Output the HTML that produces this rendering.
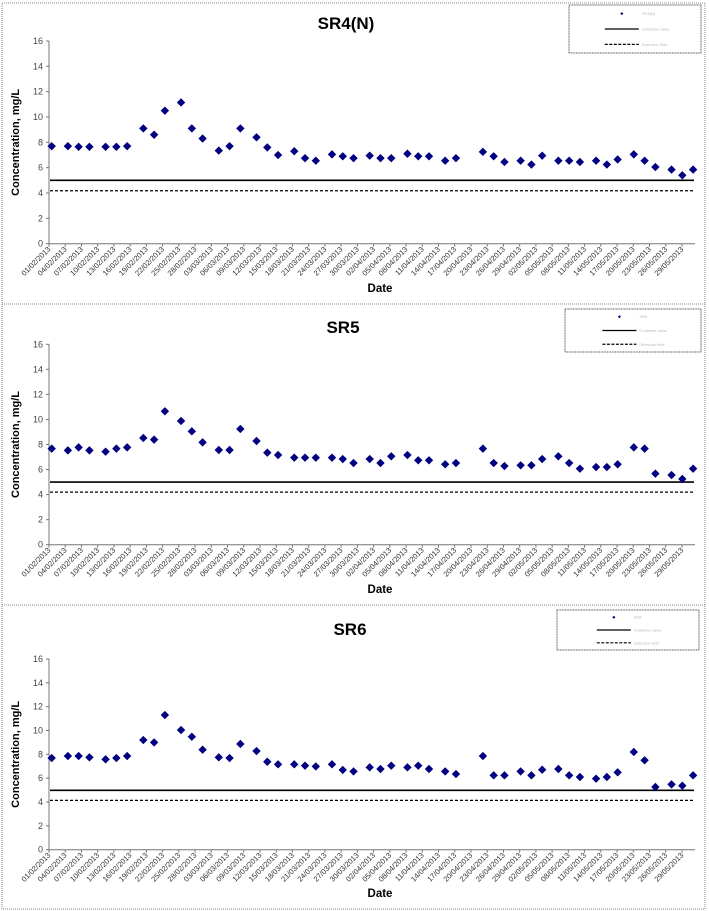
<!DOCTYPE html>
<html><head><meta charset="utf-8"><style>
html,body{margin:0;padding:0;background:#fff}
svg{display:block;font-family:"Liberation Sans",sans-serif}
</style></head><body>
<svg id="root" width="709" height="911" viewBox="0 0 709 911">
<rect x="2" y="3" width="703" height="906" fill="none" stroke="#888" stroke-dasharray="1,1"/>
<line x1="2" y1="304" x2="705" y2="304" stroke="#888" stroke-dasharray="1,1"/>
<line x1="2" y1="605" x2="705" y2="605" stroke="#888" stroke-dasharray="1,1"/>
</svg>
<script>
const days=[0,3,5,7,10,12,14,17,19,21,24,26,28,31,33,35,38,40,42,45,47,49,52,54,56,59,61,63,66,68,70,73,75,80,82,84,87,89,91,94,96,98,101,103,105,108,110,112,115,117,119];
const sr4=[7.7,7.7,7.65,7.65,7.65,7.65,7.7,9.1,8.6,10.5,11.15,9.1,8.3,7.35,7.7,9.1,8.4,7.6,7.0,7.3,6.75,6.55,7.05,6.9,6.75,6.95,6.75,6.75,7.1,6.9,6.9,6.55,6.75,7.25,6.9,6.45,6.55,6.25,6.95,6.55,6.55,6.45,6.55,6.25,6.65,7.05,6.55,6.05,5.85,5.4,5.85];
const sr5=[7.67,7.53,7.77,7.53,7.43,7.67,7.77,8.52,8.39,10.65,9.88,9.05,8.17,7.56,7.56,9.24,8.28,7.35,7.16,6.95,6.95,6.95,6.95,6.84,6.52,6.84,6.52,7.06,7.16,6.74,6.74,6.42,6.52,7.67,6.52,6.28,6.34,6.34,6.84,7.06,6.52,6.07,6.2,6.2,6.42,7.77,7.67,5.67,5.56,5.25,6.07];
const sr6=[7.69,7.86,7.86,7.75,7.58,7.69,7.86,9.2,9.0,11.3,10.04,9.48,8.39,7.75,7.69,8.87,8.28,7.38,7.16,7.16,7.05,6.99,7.16,6.69,6.57,6.91,6.77,7.05,6.91,7.05,6.77,6.57,6.35,7.86,6.24,6.24,6.57,6.24,6.71,6.77,6.24,6.1,5.96,6.1,6.49,8.2,7.5,5.26,5.48,5.37,6.24];
const yTicks=[0,2,4,6,8,10,12,14,16];
const guideline=[5,5,4.98];
const limit=[4.18,4.2,4.14];
const tickLabels=["01/02/2013","04/02/2013","07/02/2013","10/02/2013","13/02/2013","16/02/2013","19/02/2013","22/02/2013","25/02/2013","28/02/2013","03/03/2013","06/03/2013","09/03/2013","12/03/2013","15/03/2013","18/03/2013","21/03/2013","24/03/2013","27/03/2013","30/03/2013","02/04/2013","05/04/2013","08/04/2013","11/04/2013","14/04/2013","17/04/2013","20/04/2013","23/04/2013","26/04/2013","29/04/2013","02/05/2013","05/05/2013","08/05/2013","11/05/2013","14/05/2013","17/05/2013","20/05/2013","23/05/2013","26/05/2013","29/05/2013"];
const titles=["SR4(N)","SR5","SR6"];
const series=[sr4,sr5,sr6];
const NS="http://www.w3.org/2000/svg";
const root=document.getElementById('root');
const layouts=[
 {y0:243.7,y16:41,tx:346,ty:29,dateY:292,leg:[569,5,132,48]},
 {y0:544.7,y16:344.3,tx:343,ty:333,dateY:593,leg:[565,309,136,43]},
 {y0:849.7,y16:659,tx:350,ty:635,dateY:897,leg:[557,610,142,40]}
];
function mk(tag,attrs,parent){const e=document.createElementNS(NS,tag);for(const k in attrs)e.setAttribute(k,attrs[k]);(parent||root).appendChild(e);return e;}
const xPt=d=>49+(d+0.5)*5.39;
const xTick=d=>49+d*5.41;
series.forEach((vals,ci)=>{
 const L=layouts[ci];
 const yS=v=>L.y0-(v/16)*(L.y0-L.y16);
 const g=mk('g',{});
 
 
 const t=mk('text',{x:L.tx,y:L.ty,'text-anchor':'middle','font-size':'17','font-weight':'bold',fill:'#000'},g);
 t.textContent=titles[ci];
 
 
 const ya=mk('line',{x1:49,y1:L.y16,x2:49,y2:L.y0,stroke:'#777'},g);
 
 
 const xa=mk('line',{x1:49,y1:L.y0,x2:695,y2:L.y0,stroke:'#777'},g);
 
 
 yTicks.forEach(v=>{
  const y=yS(v);
  mk('line',{x1:46,y1:y,x2:49,y2:y,stroke:'#777'},g);
  const tl=mk('text',{x:43,y:y+3,'text-anchor':'end','font-size':'9',fill:'#444'},g);
  tl.textContent=v;
  
  
 });
 tickLabels.forEach((lab,i)=>{
  const x=xTick(i*3);
  mk('line',{x1:x,y1:L.y0,x2:x,y2:L.y0+3,stroke:'#777'},g);
  const tl=mk('text',{x:x+2,y:L.y0+6,'text-anchor':'end','font-size':'7.5',fill:'#333',transform:`rotate(-45 ${x+2} ${L.y0+6})`},g);
  tl.textContent=lab;
  
  
 });
 mk('line',{x1:50,y1:yS(guideline[ci]),x2:694,y2:yS(guideline[ci]),stroke:'#000','stroke-width':1.6},g);
 mk('line',{x1:50,y1:yS(limit[ci]),x2:694,y2:yS(limit[ci]),stroke:'#000','stroke-width':1.2,'stroke-dasharray':'3,2'},g);
 vals.forEach((v,i)=>{
  const x=xPt(days[i]),y=yS(v);
  const p=mk('polygon',{points:`${x},${y-4.2} ${x+4.2},${y} ${x},${y+4.2} ${x-4.2},${y}`,fill:'#000080'},g);
  
  
 });
 const cy=(L.y0+L.y16)/2;
 const yt=mk('text',{x:19,y:cy,'text-anchor':'middle','font-size':'11','font-weight':'bold',fill:'#000',transform:`rotate(-90 19 ${cy})`},g);
 yt.textContent='Concentration, mg/L';
 
 
 const xt=mk('text',{x:380,y:L.dateY,'text-anchor':'middle','font-size':'11.5','font-weight':'bold',fill:'#000'},g);
 xt.textContent='Date';
 
 
 const [lx,ly,lw,lh]=L.leg;
 const lg=mk('g',{},g);
 
 
 mk('rect',{x:lx,y:ly,width:lw,height:lh,fill:'#fff',stroke:'#555','stroke-dasharray':'1,0.6'},lg);
 const rows=[ly+lh*0.18,ly+lh*0.5,ly+lh*0.82];
 const mx=lx+lw*0.4;
 mk('polygon',{points:`${mx},${rows[0]-1.5} ${mx+1.5},${rows[0]} ${mx},${rows[0]+1.5} ${mx-1.5},${rows[0]}`,fill:'#000080'},lg);
 mk('line',{x1:mx-17,y1:rows[1],x2:mx+17,y2:rows[1],stroke:'#000','stroke-width':1.2},lg);
 mk('line',{x1:mx-17,y1:rows[2],x2:mx+17,y2:rows[2],stroke:'#000','stroke-width':1.2,'stroke-dasharray':'3,1.5'},lg);
 [titles[ci],'Guideline value','Detection limit'].forEach((s,k)=>{
  const lt=mk('text',{x:mx+20,y:rows[k]+1.5,'font-size':'4',fill:'#bbb'},lg);
  lt.textContent=s;
  
  
 });
});
</script>
</body></html>
